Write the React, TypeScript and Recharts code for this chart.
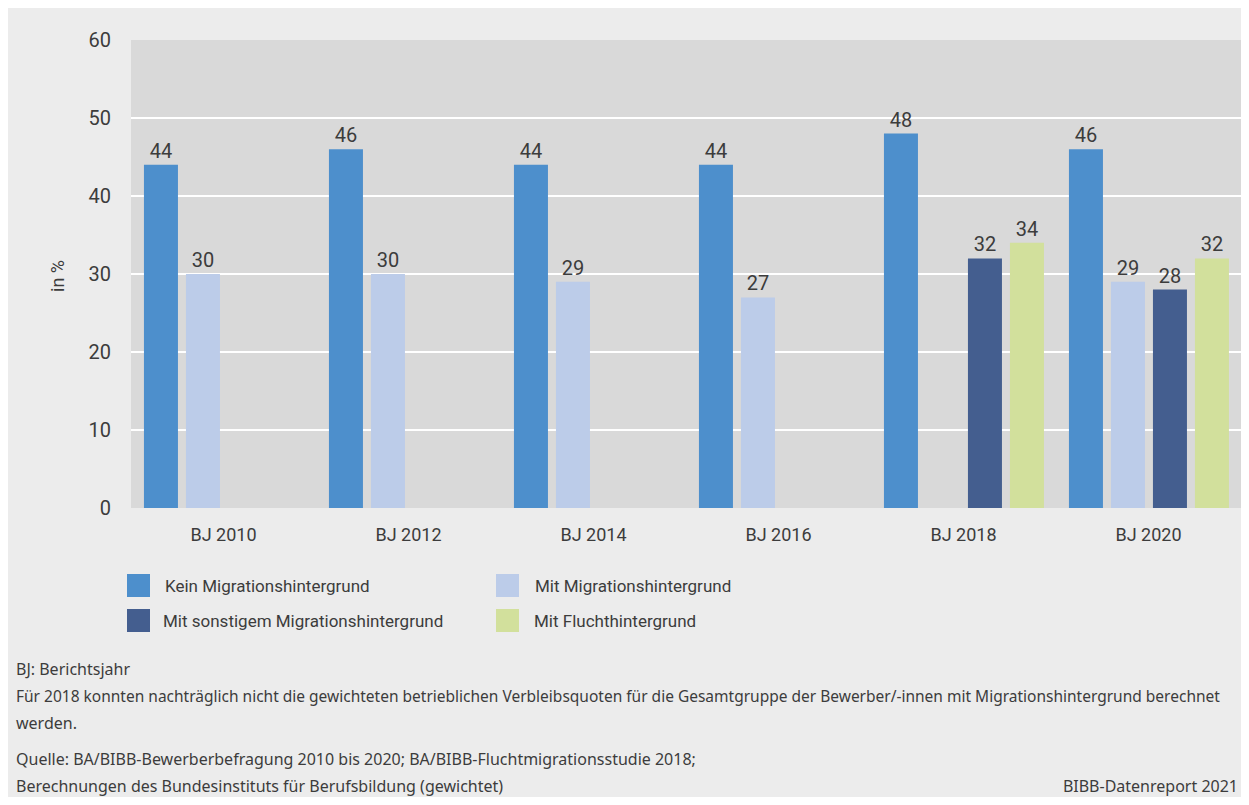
import React from 'react';
import { BarChart, Bar, XAxis, YAxis, CartesianGrid } from 'recharts';

const categories = ['BJ 2010', 'BJ 2012', 'BJ 2014', 'BJ 2016', 'BJ 2018', 'BJ 2020'];
const keinValues = [44, 46, 44, 44, 48, 46];
const mitValues = [30, 30, 29, 27, null, 29];
const sonstigValues = [null, null, null, null, 32, 28];
const fluchtValues = [null, null, null, null, 34, 32];
const yTicks = [0, 10, 20, 30, 40, 50, 60];

const seriesInfo = [
  { key: 'kein', name: 'Kein Migrationshintergrund', color: '#4d8fcc' },
  { key: 'mit', name: 'Mit Migrationshintergrund', color: '#bccce9' },
  { key: 'sonstig', name: 'Mit sonstigem Migrationshintergrund', color: '#445e8f' },
  { key: 'flucht', name: 'Mit Fluchthintergrund', color: '#d2e09c' },
];

const data = categories.map((c, i) => ({
  cat: c,
  kein: keinValues[i],
  mit: mitValues[i],
  sonstig: sonstigValues[i],
  flucht: fluchtValues[i],
}));

const FONT = 'Roboto, "Noto Sans", sans-serif';
const NOTE_FONT = '"Noto Sans", Roboto, sans-serif';
const TEXT = '#3c3c3c';

// value on top of each bar, skip empty ones
const renderLabel = (props: any) => {
  const { x, y, width, value } = props;
  if (value === null || value === undefined) return null;
  return (
    <text x={x + width / 2} y={y - 7} textAnchor="middle" fill={TEXT} fontSize={20} fontFamily={FONT}>
      {value}
    </text>
  );
};

const App: React.FC = () => {
  return (
    <div style={{ position: 'relative', width: 1233, height: 789, background: '#ececec', fontFamily: FONT, color: TEXT, overflow: 'hidden' }}>
      <div style={{ position: 'absolute', left: 49, top: 268, transform: 'translate(-50%, -50%) rotate(-90deg)', fontSize: 18, whiteSpace: 'nowrap' }}>
        in %
      </div>
      <BarChart
        width={1233}
        height={541}
        data={data}
        margin={{ top: 32, right: 0, left: 0, bottom: 0 }}
        barCategoryGap="7%"
        barGap={8}
      >
        <CartesianGrid horizontal vertical={false} stroke="#ffffff" strokeWidth={2} fill="#d9d9d9" horizontalValues={[10, 20, 30, 40, 50]} />
        <XAxis
          dataKey="cat"
          axisLine={false}
          tickLine={false}
          tickSize={0}
          tickMargin={20}
          height={41}
          tick={{ fill: TEXT, fontSize: 18, fontFamily: FONT }}
        />
        <YAxis
          domain={[0, 60]}
          ticks={yTicks}
          axisLine={false}
          tickLine={false}
          tickSize={0}
          tickMargin={20}
          width={123}
          tick={{ fill: TEXT, fontSize: 20, fontFamily: FONT }}
        />
        {seriesInfo.map((s) => (
          <Bar key={s.key} dataKey={s.key} name={s.name} fill={s.color} isAnimationActive={false} label={renderLabel} />
        ))}
      </BarChart>
      <div style={{ position: 'absolute', left: 119, top: 566, fontSize: 17 }}>
        {seriesInfo.map((s, i) => (
          <div
            key={s.key}
            style={{ position: 'absolute', left: (i % 2) * 369, top: Math.floor(i / 2) * 35, height: 23, display: 'flex', alignItems: 'center', whiteSpace: 'nowrap' }}
          >
            <span style={{ display: 'inline-block', width: 23, height: 23, background: s.color, marginRight: i === 2 ? 13 : i === 1 ? 16 : 15 }} />
            <span>{s.name}</span>
          </div>
        ))}
      </div>
      <div style={{ position: 'absolute', left: 8, top: 648, width: 1222, fontFamily: NOTE_FONT, fontSize: 16, lineHeight: '27px', whiteSpace: 'nowrap' }}>
        <div>BJ: Berichtsjahr</div>
        <div style={{ fontSize: 15.5 }}>Für 2018 konnten nachträglich nicht die gewichteten betrieblichen Verbleibsquoten für die Gesamtgruppe der Bewerber/-innen mit Migrationshintergrund berechnet</div>
        <div>werden.</div>
        <div style={{ marginTop: 9 }}>Quelle: BA/BIBB-Bewerberbefragung 2010 bis 2020; BA/BIBB-Fluchtmigrationsstudie 2018;</div>
        <div style={{ display: 'flex', justifyContent: 'space-between' }}>
          <span>Berechnungen des Bundesinstituts für Berufsbildung (gewichtet)</span>
          <span>BIBB-Datenreport 2021</span>
        </div>
      </div>
    </div>
  );
};

export default App;
